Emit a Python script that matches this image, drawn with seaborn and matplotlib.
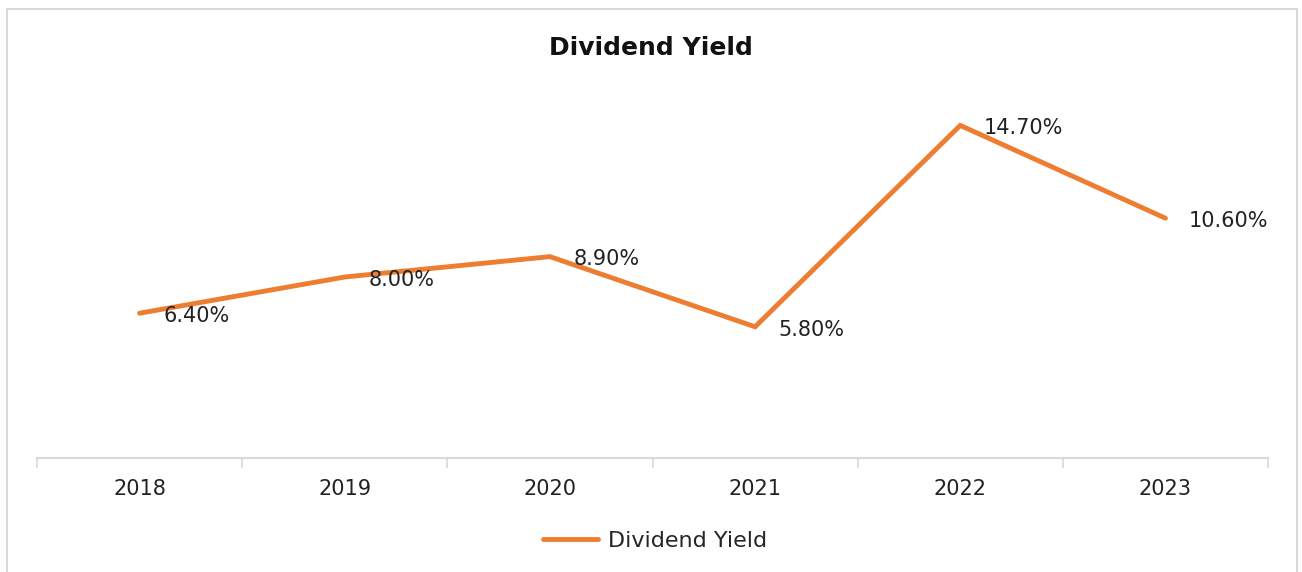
import matplotlib
matplotlib.use("Agg")
import matplotlib.pyplot as plt
import seaborn as sns
import pandas as pd
import numpy as np
from matplotlib.patches import Rectangle

years = ["2018", "2019", "2020", "2021", "2022", "2023"]
dividend_yield = [6.4, 8.0, 8.9, 5.8, 14.7, 10.6]
labels = ["6.40%", "8.00%", "8.90%", "5.80%", "14.70%", "10.60%"]
series_name = "Dividend Yield"

sns.set_theme(style="white")
plt.rcParams['font.family'] = ['DejaVu Sans']

df = pd.DataFrame({"Year": years, series_name: dividend_yield})

fig = plt.figure(figsize=(13.02, 5.72), dpi=100)
ax = fig.add_axes([37/1302, 1-458/572, (1268-37)/1302, (458-96)/572])

color = "#ED7D31"
sns.lineplot(data=df, x="Year", y=series_name, ax=ax, color=color, linewidth=3.5,
             label=series_name, sort=False, solid_capstyle="round", solid_joinstyle="miter")

for i, (v, t) in enumerate(zip(dividend_yield, labels)):
    ax.annotate(t, (i, v), xytext=(17, -2), textcoords="offset points",
                ha="left", va="center", fontsize=15, color="#222222")

ax.set_xlim(-0.5, 5.5)
ax.set_ylim(0, 16)
ax.set_yticks([])
ax.set_xlabel("")
ax.set_ylabel("")
ax.set_xticks(range(len(years)))
ax.set_xticklabels(years, fontsize=15, color="#222222")
ax.set_xticks(np.arange(-0.5, 6, 1), minor=True)
ax.tick_params(axis="x", which="major", length=0, pad=15)
ax.tick_params(axis="x", which="minor", length=7, width=1.2, color="#D9D9D9", bottom=True)
for s in ["top", "left", "right"]:
    ax.spines[s].set_visible(False)
ax.spines["bottom"].set_color("#D9D9D9")
ax.spines["bottom"].set_linewidth(1.5)

ax.legend_.remove()
handles, lbls = ax.get_legend_handles_labels()
fig.legend(handles, lbls, loc="center", bbox_to_anchor=(655/1302, 1-541/572),
           frameon=False, fontsize=16, handlelength=2.5, handletextpad=0.45)

fig.text(651/1302, 1-48/572, "Dividend Yield", ha="center", va="center",
         fontsize=18, fontweight="bold", color="#111111")

fig.patches.append(Rectangle((7/1302, -0.05), (1297-7)/1302, 1.05-9/572,
                             transform=fig.transFigure, fill=False,
                             edgecolor="#D9D9D9", linewidth=1.5))

fig.savefig("out.png", dpi=100)
